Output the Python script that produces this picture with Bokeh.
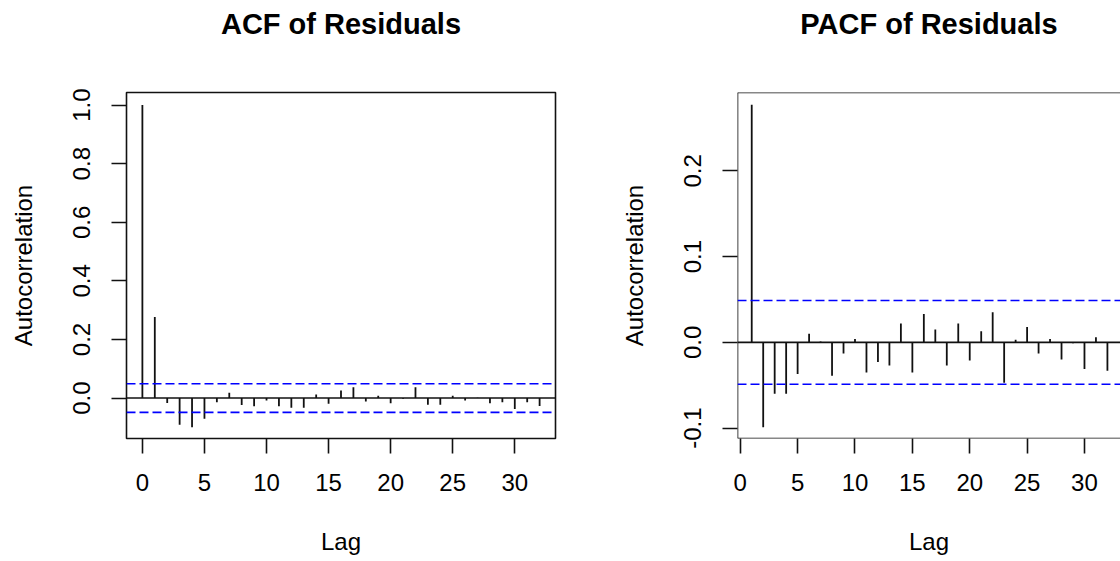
from bokeh.plotting import figure
from bokeh.models import Span, FixedTicker, PrintfTickFormatter, Range1d, Title
from bokeh.layouts import row
from bokeh.embed import file_html
from bokeh.resources import INLINE

# ---------------- data ----------------
acf_lags = list(range(0, 33))
acf_values = [1.000, 0.277, -0.017, -0.091, -0.100, -0.071, -0.014, 0.018, -0.024,
              -0.028, -0.008, -0.028, -0.033, -0.033, 0.012, -0.019, 0.026, 0.037,
              -0.012, 0.008, -0.018, -0.002, 0.037, -0.023, -0.023, 0.008, -0.008,
              0.001, -0.018, -0.014, -0.037, -0.014, -0.027]

pacf_lags = list(range(1, 33))
pacf_values = [0.277, -0.099, -0.060, -0.060, -0.037, 0.010, 0.001, -0.039, -0.013,
               0.004, -0.035, -0.023, -0.027, 0.022, -0.035, 0.033, 0.015, -0.027,
               0.022, -0.021, 0.013, 0.035, -0.047, 0.003, 0.018, -0.013, 0.004,
               -0.020, -0.001, -0.031, 0.006, -0.033]

conf_limit = 0.0488

x_ticks = [0, 5, 10, 15, 20, 25, 30]
acf_y_ticks = [0.0, 0.2, 0.4, 0.6, 0.8, 1.0]
pacf_y_ticks = [-0.1, 0.0, 0.1, 0.2]

titles = ["ACF of Residuals", "PACF of Residuals"]
x_label = "Lag"
y_label = "Autocorrelation"

FONT = "Liberation Sans"
H = 561
INK = "#111111"


def panel(title, lags, vals, xr, yr, yticks, width, mbl, mbr, open_right):
    p = figure(width=width, height=H, output_backend="svg", toolbar_location=None,
               x_range=Range1d(*xr), y_range=Range1d(*yr), title=None,
               min_border_left=mbl, min_border_right=mbr, min_border_top=92,
               min_border_bottom=123)
    # spacer between frame and title (closest to the frame)
    p.add_layout(Title(text=" ", text_font_size="1px", standoff=41), "above")
    p.add_layout(Title(text=title, align="center", vertical_align="top", standoff=14,
                       text_font=FONT, text_font_size="29px", text_font_style="bold",
                       text_color="black"), "above")
    p.xgrid.visible = False
    p.ygrid.visible = False
    p.background_fill_color = "white"
    p.border_fill_color = "white"
    if open_right:
        p.outline_line_color = None
        for loc, dim in ((yr[0], "width"), (yr[1], "width"), (xr[0], "height")):
            p.add_layout(Span(location=loc, dimension=dim, line_color=INK,
                              line_width=1.6))
    else:
        p.outline_line_color = INK
        p.outline_line_width = 1.6
        p.outline_line_alpha = 1.0

    for ax in (p.xaxis[0], p.yaxis[0]):
        ax.axis_line_color = None
        ax.major_tick_out = 15
        ax.major_tick_in = 0
        ax.minor_tick_line_color = None
        ax.major_tick_line_color = INK
        ax.major_tick_line_width = 1.6
        ax.major_label_text_font = FONT
        ax.major_label_text_font_size = "24px"
        ax.major_label_text_color = "black"
        ax.axis_label_text_font = FONT
        ax.axis_label_text_font_size = "24px"
        ax.axis_label_text_font_style = "normal"
        ax.axis_label_text_color = "black"

    p.xaxis.ticker = FixedTicker(ticks=x_ticks)
    p.xaxis.major_label_standoff = 20
    p.xaxis.axis_label = x_label
    p.xaxis.axis_label_standoff = 34

    p.yaxis.ticker = FixedTicker(ticks=yticks)
    p.yaxis.formatter = PrintfTickFormatter(format="%.1f")
    p.yaxis.major_label_orientation = "vertical"
    p.yaxis.major_label_standoff = 21
    p.yaxis.axis_label = y_label
    p.yaxis.axis_label_standoff = 34

    p.add_layout(Span(location=0, dimension="width", line_color=INK, line_width=1.6))
    for c in (conf_limit, -conf_limit):
        p.add_layout(Span(location=c, dimension="width", line_color="#0000FF",
                          line_width=1.6, line_dash="9 4"))
    p.segment(x0=lags, y0=[0] * len(lags), x1=lags, y1=vals,
              line_color=INK, line_width=1.8)
    return p


p1 = panel(titles[0], acf_lags, acf_values, (-1.28, 33.28), (-0.138, 1.043),
           acf_y_ticks, 560, 126, 5, False)
p2 = panel(titles[1], pacf_lags, pacf_values, (-0.24, 33.14), (-0.1121, 0.2914),
           pacf_y_ticks, 560, 177, 0, True)

layout = row(p1, p2)
open("out.html", "w").write(file_html(layout, INLINE))
